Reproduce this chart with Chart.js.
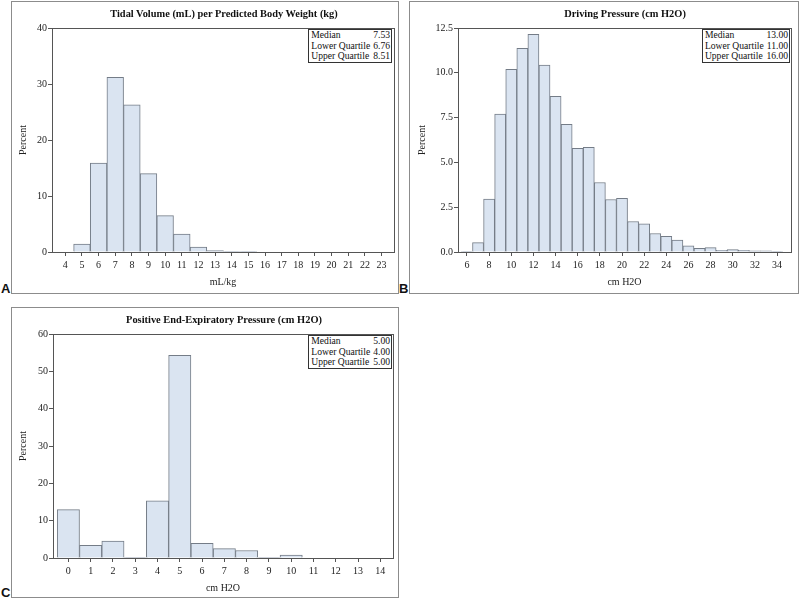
<!DOCTYPE html>
<html>
<head>
<meta charset="utf-8">
<script src="https://cdn.jsdelivr.net/npm/chart.js@4.4.1/dist/chart.umd.min.js"></script>
<style>
  body { margin: 0; background: #fff; width: 800px; height: 601px; position: relative; overflow: hidden; font-family: "Liberation Serif", "Times New Roman", serif; color: #111; }
  .panel { position: absolute; border: 1px solid #8c8c8c; box-sizing: border-box; }
  .panel canvas { position: absolute; left: 0; top: 0; }
  .title { position: absolute; font-weight: bold; font-size: 10.4px; line-height: 12px; white-space: nowrap; transform: translateX(-50%); }
  .tag { position: absolute; font-family: "Liberation Sans", Arial, sans-serif; font-weight: bold; font-size: 13px; line-height: 11px; }
  .stats { position: absolute; border: 1px solid #333; background: #fff; font-size: 9.6px; line-height: 10.6px; padding: 0 1px 0 2px; }
  .stats div { display: flex; justify-content: space-between; white-space: nowrap; gap: 3px; }
</style>
</head>
<body>

<div class="panel" style="left:11px; top:1px; width:388px; height:293px;"><canvas id="chartA" width="386" height="291"></canvas></div>
<div class="panel" style="left:409px; top:1px; width:390px; height:293px;"><canvas id="chartB" width="388" height="291"></canvas></div>
<div class="panel" style="left:11px; top:307px; width:388px; height:291px;"><canvas id="chartC" width="386" height="289"></canvas></div>

<div class="title" style="left:224px; top:8px;">Tidal Volume (mL) per Predicted Body Weight (kg)</div>
<div class="title" style="left:625px; top:8px;">Driving Pressure (cm H2O)</div>
<div class="title" style="left:224px; top:314px;">Positive End-Expiratory Pressure (cm H2O)</div>

<div class="tag" style="left:1px; top:283px;">A</div>
<div class="tag" style="left:399px; top:283px;">B</div>
<div class="tag" style="left:1px; top:587px;">C</div>

<div class="stats" id="statsA" style="right:408px; top:29px;"></div>
<div class="stats" id="statsB" style="right:10px; top:29px;"></div>
<div class="stats" id="statsC" style="right:408px; top:335px;"></div>

<script>
// panel A: tidal volume per predicted body weight
const tvBins = [4, 5, 6, 7, 8, 9, 10, 11, 12, 13, 14, 15, 16, 17, 18, 19, 20, 21, 22, 23];
const tvPct = [0, 1.4, 15.9, 31.2, 26.3, 14.0, 6.5, 3.2, 0.9, 0.25, 0.12, 0.06, 0, 0, 0, 0, 0, 0, 0, 0];
const tvYTicks = [0, 10, 20, 30, 40];
const tvStats = ["7.53", "6.76", "8.51"];

// panel B: driving pressure
const dpBins = [6, 7, 8, 9, 10, 11, 12, 13, 14, 15, 16, 17, 18, 19, 20, 21, 22, 23, 24, 25, 26, 27, 28, 29, 30, 31, 32, 33, 34];
const dpPct = [0.02, 0.52, 2.95, 7.69, 10.2, 11.36, 12.15, 10.43, 8.68, 7.13, 5.78, 5.84, 3.88, 2.93, 2.99, 1.7, 1.57, 1.03, 0.88, 0.67, 0.34, 0.2, 0.24, 0.09, 0.13, 0.1, 0.07, 0.07, 0.02];
const dpXTicks = [6, 8, 10, 12, 14, 16, 18, 20, 22, 24, 26, 28, 30, 32, 34];
const dpYTicks = [0, 2.5, 5, 7.5, 10, 12.5];
const dpStats = ["13.00", "11.00", "16.00"];

// panel C: PEEP
const peepBins = [0, 1, 2, 3, 4, 5, 6, 7, 8, 9, 10, 11, 12, 13, 14];
const peepPct = [12.95, 3.4, 4.55, 0.15, 15.3, 54.3, 3.95, 2.5, 2.0, 0.12, 0.75, 0, 0, 0, 0];
const peepYTicks = [0, 10, 20, 30, 40, 50, 60];
const peepStats = ["5.00", "4.00", "5.00"];

const statLabels = ["Median", "Lower Quartile", "Upper Quartile"];

const serif = "'Liberation Serif', 'DejaVu Serif', serif";
const axisColor = "#555";

function fillStats(id, values) {
  const box = document.getElementById(id);
  box.innerHTML = statLabels
    .map((lab, i) => `<div><span>${lab}</span><span>${values[i]}</span></div>`)
    .join("");
}

// draws the top and right edges of the plot frame
const framePlugin = {
  id: "frame",
  afterDraw(chart) {
    const a = chart.chartArea;
    const ctx = chart.ctx;
    ctx.save();
    ctx.strokeStyle = axisColor;
    ctx.lineWidth = 1;
    ctx.strokeRect(Math.round(a.left) + 0.5, Math.round(a.top) + 0.5, Math.round(a.right - a.left), Math.round(a.bottom - a.top));
    ctx.restore();
  },
};

function makeHist(id, o) {
  return new Chart(document.getElementById(id), {
    type: "bar",
    data: {
      labels: o.bins,
      datasets: [
        {
          data: o.values,
          backgroundColor: "#dae4f1",
          borderColor: "#747c87",
          borderWidth: 1,
          barPercentage: 1,
          categoryPercentage: 1,
        },
      ],
    },
    options: {
      responsive: false,
      animation: false,
      devicePixelRatio: 1,
      layout: { padding: { top: 26, right: o.padRight, left: 0, bottom: 0 } },
      plugins: { legend: { display: false }, tooltip: { enabled: false }, title: { display: false } },
      scales: {
        x: {
          type: "linear",
          min: o.xMin,
          max: o.xMax,
          offset: false,
          afterBuildTicks: (s) => { s.ticks = o.xTicks.map((v) => ({ value: v })); },
          afterFit: (s) => { s.height = o.xAxisH; },
          grid: { drawOnChartArea: false, drawTicks: true, tickLength: 4, color: axisColor, offset: false },
          border: { display: true, color: axisColor, width: 1 },
          ticks: { color: "#222", font: { family: serif, size: 10 }, padding: 3, maxRotation: 0, autoSkip: false },
          title: { display: true, text: o.xTitle, color: "#222", font: { family: serif, size: 10 }, padding: { top: 0, bottom: o.xTitlePad } },
        },
        y: {
          min: 0,
          max: o.yTicks[o.yTicks.length - 1],
          afterBuildTicks: (s) => { s.ticks = o.yTicks.map((v) => ({ value: v })); },
          afterFit: (s) => { s.width = o.yAxisW; },
          grid: { drawOnChartArea: false, drawTicks: true, tickLength: 4, color: axisColor },
          border: { display: true, color: axisColor, width: 1 },
          ticks: {
            color: "#222",
            font: { family: serif, size: 10 },
            padding: 1,
            callback: (v) => (o.yFixed ? v.toFixed(o.yFixed) : v),
          },
          title: { display: true, text: "Percent", color: "#222", font: { family: serif, size: 10 }, padding: { top: o.yTitlePad, bottom: 0 } },
        },
      },
    },
    plugins: [framePlugin],
  });
}

const charts = [
  makeHist("chartA", {
    bins: tvBins, values: tvPct, xTicks: tvBins, yTicks: tvYTicks,
    xMin: 3.2, xMax: 23.75, xTitle: "mL/kg",
    padRight: 4, yAxisW: 40, xAxisH: 41, xTitlePad: 5, yTitlePad: 5,
  }),
  makeHist("chartB", {
    bins: dpBins, values: dpPct, xTicks: dpXTicks, yTicks: dpYTicks, yFixed: 1,
    xMin: 5.19, xMax: 35.26, xTitle: "cm H2O",
    padRight: 7, yAxisW: 48, xAxisH: 41, xTitlePad: 5, yTitlePad: 6,
  }),
  makeHist("chartC", {
    bins: peepBins, values: peepPct, xTicks: peepBins, yTicks: peepYTicks,
    xMin: -0.69, xMax: 14.57, xTitle: "cm H2O",
    padRight: 5, yAxisW: 41, xAxisH: 39, xTitlePad: 3, yTitlePad: 5,
  }),
];

// redraw once the serif face is surely available to the canvas
document.fonts.load("10px 'Liberation Serif'").then(() => {
  charts.forEach((c) => c.update("none"));
});

fillStats("statsA", tvStats);
fillStats("statsB", dpStats);
fillStats("statsC", peepStats);
</script>
</body>
</html>
